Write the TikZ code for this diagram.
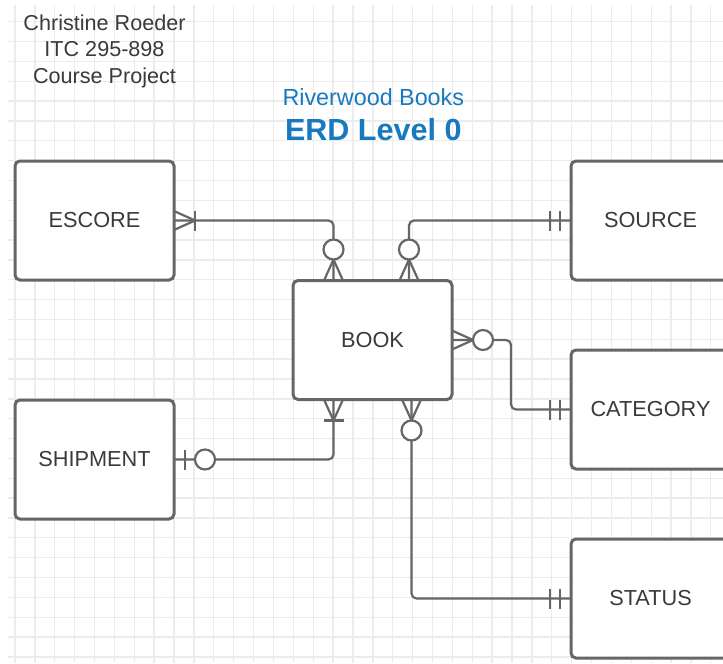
\documentclass[tikz,border=0pt]{standalone}
\usepackage{fontspec}
\setmainfont{Liberation Sans}
\usetikzlibrary{calc}
\definecolor{gridc}{RGB}{236,236,236}
\definecolor{linec}{RGB}{102,102,102}
\definecolor{txtc}{RGB}{58,58,58}
\definecolor{bluec}{RGB}{24,122,190}
\tikzset{
  entity/.style={draw=linec, line width=2.25pt, rounded corners=3.75pt, fill=white,
    minimum width=119.25pt, minimum height=89.25pt, inner sep=0pt, outer sep=0pt,
    font=\fontsize{16.3pt}{19pt}\selectfont, text=txtc},
  conn/.style={draw=linec, line width=1.65pt},
  gridline/.style={draw=gridc, line width=1pt},
  hdr/.style={anchor=base, inner sep=0pt, font=\fontsize{16.2pt}{19pt}\selectfont, text=txtc},
  zmany/.pic={\draw[conn] (0,-9.5) -- (21,0) -- (0,9.5); \draw[conn,fill=white] (31,0) circle[radius=10];},
  omany/.pic={\draw[conn] (0,-9.5) -- (21,0) -- (0,9.5); \draw[conn] (21,-10) -- (21,10);},
  oone/.pic={\draw[conn] (11,-10) -- (11,10); \draw[conn] (21,-10) -- (21,10);},
  zone/.pic={\draw[conn] (11,-10) -- (11,10); \draw[conn,fill=white] (31,0) circle[radius=10];}
}
\begin{document}
\begin{tikzpicture}[x=0.75pt,y=-0.75pt]
\useasboundingbox (0,0) rectangle (723,663);
\clip (0,0) rectangle (723,663);
\fill[white] (0,0) rectangle (723,663);
% grid
\foreach \k in {0,...,35} \draw[gridline] ({15+19.88*\k},5) -- ({15+19.88*\k},663);
\foreach \k in {0,...,32} \draw[gridline] (8,{21.7+19.85*\k}) -- (723,{21.7+19.85*\k});
% header texts
\node[hdr] (h1) at (104.5,30.7) {Christine Roeder};
\node[hdr] (h2) at (104.5,57) {ITC 295-898};
\node[hdr] (h3) at (104.5,83.5) {Course Project};
\node[anchor=base, inner sep=0pt, font=\fontsize{17.5pt}{20pt}\selectfont, text=bluec] (t1) at (373.3,105.5) {Riverwood Books};
\node[anchor=base, inner sep=0pt, font=\bfseries\fontsize{22.9pt}{26pt}\selectfont, text=bluec] (t2) at (373.3,140.5) {ERD Level 0};
% entities
\node[entity] (escore) at (94.5,220.5) {ESCORE};
\node[entity] (shipment) at (94.5,459.5) {SHIPMENT};
\node[entity] (book) at (372.5,340) {BOOK};
\node[entity] (source) at (650.5,220.5) {SOURCE};
\node[entity] (category) at (650.5,409.5) {CATEGORY};
\node[entity] (status) at (650.5,598.5) {STATUS};
% connector anchors on BOOK
\coordinate (b1) at ($(book.north)+(-39,0)$);
\coordinate (b2) at ($(book.north)+(36.5,0)$);
\coordinate (b4) at ($(book.south)+(-39,0)$);
\coordinate (b5) at ($(book.south)+(39,0)$);
% connectors
\draw[conn, rounded corners=3.75pt] (escore.east) -| (b1);
\draw[conn, rounded corners=3.75pt] (b2) |- (source.west);
\draw[conn, rounded corners=3.75pt] (book.east) -- ++(59,0) |- (category.west);
\draw[conn, rounded corners=3.75pt] (shipment.east) -| (b4);
\draw[conn, rounded corners=3.75pt] (b5) |- (status.west);
% end symbols
\pic[rotate=90] at (b1) {zmany};
\pic[rotate=90] at (b2) {zmany};
\pic at (book.east) {zmany};
\pic[rotate=-90] at (b4) {omany};
\pic[rotate=-90] at (b5) {zmany};
\pic at (escore.east) {omany};
\pic at (shipment.east) {zone};
\pic[rotate=180] at (source.west) {oone};
\pic[rotate=180] at (category.west) {oone};
\pic[rotate=180] at (status.west) {oone};
\end{tikzpicture}
\end{document}
